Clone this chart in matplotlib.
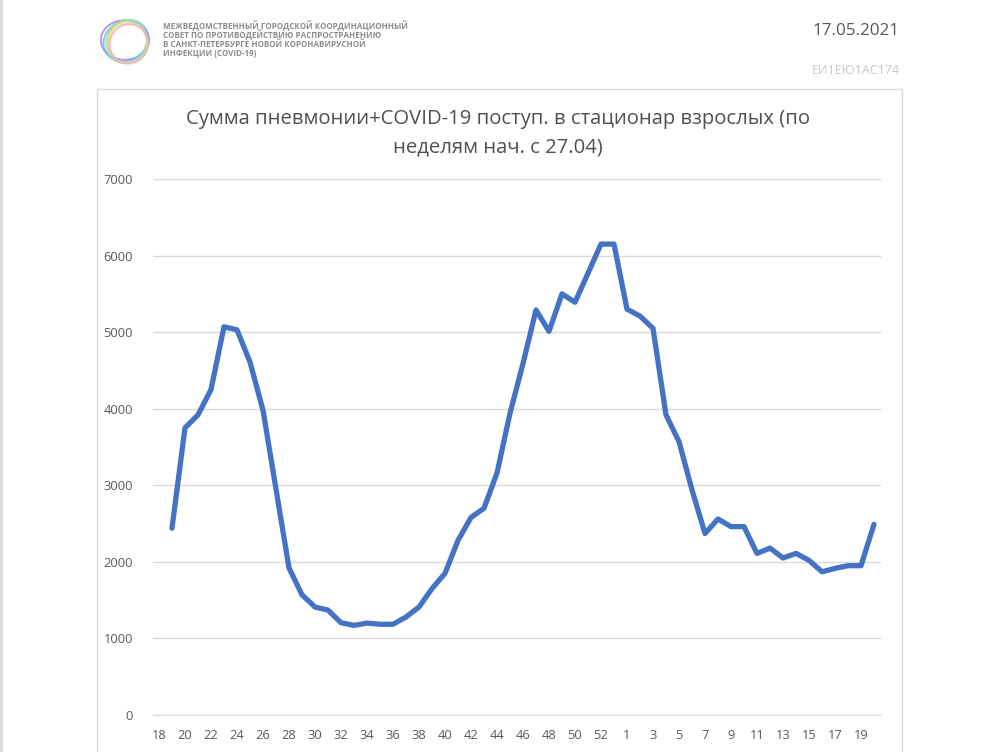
import numpy as np
import matplotlib
matplotlib.use("Agg")
import matplotlib.pyplot as plt
from matplotlib.patches import Rectangle, Ellipse

# weeks 18..53 of 2020, then 1..20 of 2021
weeks = list(range(18, 54)) + list(range(1, 21))
admissions = [
    np.nan, 2440, 3750, 3920, 4250, 5070, 5030, 4610, 3980, 2950,
    1920, 1570, 1410, 1370, 1205, 1170, 1200, 1185, 1185, 1280,
    1410, 1650, 1850, 2280, 2580, 2700, 3160, 3940, 4590, 5290,
    5010, 5500, 5390, 5770, 6150, 6150, 5300, 5210, 5050, 3920,
    3570, 2940, 2370, 2560, 2460, 2460, 2110, 2180, 2050, 2110,
    2020, 1870, 1915, 1950, 1950, 2490,
]
y_ticks = [0, 1000, 2000, 3000, 4000, 5000, 6000, 7000]

title = "Сумма пневмонии+COVID-19 поступ. в стационар взрослых (по\nнеделям нач. с 27.04)"
council = [
    "МЕЖВЕДОМСТВЕННЫЙ ГОРОДСКОЙ КООРДИНАЦИОННЫЙ",
    "СОВЕТ ПО ПРОТИВОДЕЙСТВИЮ РАСПРОСТРАНЕНИЮ",
    "В САНКТ-ПЕТЕРБУРГЕ НОВОЙ КОРОНАВИРУСНОЙ",
    "ИНФЕКЦИИ (COVID-19)",
]

plt.rcParams["font.family"] = ["Open Sans", "DejaVu Sans"]

W, H = 994, 752
fig = plt.figure(figsize=(W / 100, H / 100), dpi=100)

def fx(px):
    return px / W

def fy(py):
    return 1 - py / H

# page edge strip and chart frame
fig.patches.append(Rectangle((0, 0), fx(3), 1, transform=fig.transFigure,
                             facecolor="#dedede", edgecolor="none"))
fig.patches.append(Rectangle((fx(97), fy(800)), fx(902 - 97), fy(89) - fy(800),
                             transform=fig.transFigure, facecolor="none",
                             edgecolor="#d9d9d9", linewidth=1))

# logo rings
logo = fig.add_axes([fx(97), fy(70), fx(56), fy(10) - fy(70)])
logo.set_xlim(-1.1, 1.1)
logo.set_ylim(-1.1, 1.1)
logo.set_aspect("equal")
logo.axis("off")
ring_colors = ["#a77fd6", "#6fb6ea", "#8adfd0", "#bfe27c", "#f4e36e", "#f3aacb"]
for k, c in enumerate(ring_colors):
    logo.add_patch(Ellipse((0.03 * k, -0.03 * k), 1.9 - 0.08 * k, 1.55,
                           angle=30 * k, fill=False, edgecolor=c,
                           linewidth=1.4, alpha=0.8))

for k, line in enumerate(council):
    fig.text(fx(163), fy(26 + 9.1 * k), line, fontsize=5.75, fontweight="bold",
             color="#8c8c8c", ha="left", va="center")

fig.text(fx(899), fy(31), "17.05.2021", fontsize=12.3, color="#595959",
         ha="right", va="center")
fig.text(fx(900), fy(71), "ЕИ1ЕЮ1АС174", fontsize=9, color="#c8c8c8",
         ha="right", va="center")

fig.text(fx(498), fy(133), title, fontsize=14.6, color="#505050",
         ha="center", va="center", linespacing=1.55)

ax = fig.add_axes([fx(152.5), fy(715), fx(880.5 - 152.5), fy(179) - fy(715)])
x = np.arange(len(weeks))
ax.plot(x, admissions, color="#4472C4", linewidth=3.8,
        solid_capstyle="round", solid_joinstyle="round", zorder=3)

ax.set_xlim(-0.5, len(weeks) - 0.5)
ax.set_ylim(0, 7000)
ax.set_yticks(y_ticks)
ax.set_yticklabels([str(v) for v in y_ticks])
ax.set_xticks(x[::2])
ax.set_xticklabels([str(w) for w in weeks[::2]])
ax.grid(axis="y", color="#d9d9d9", linewidth=1)
ax.set_axisbelow(True)
for side in ["top", "right", "left"]:
    ax.spines[side].set_visible(False)
ax.spines["bottom"].set_color("#d9d9d9")
ax.tick_params(axis="both", length=0, labelsize=9.3, labelcolor="#595959")
ax.tick_params(axis="y", pad=14)
ax.tick_params(axis="x", pad=10)

fig.savefig("out.png", dpi=100)
